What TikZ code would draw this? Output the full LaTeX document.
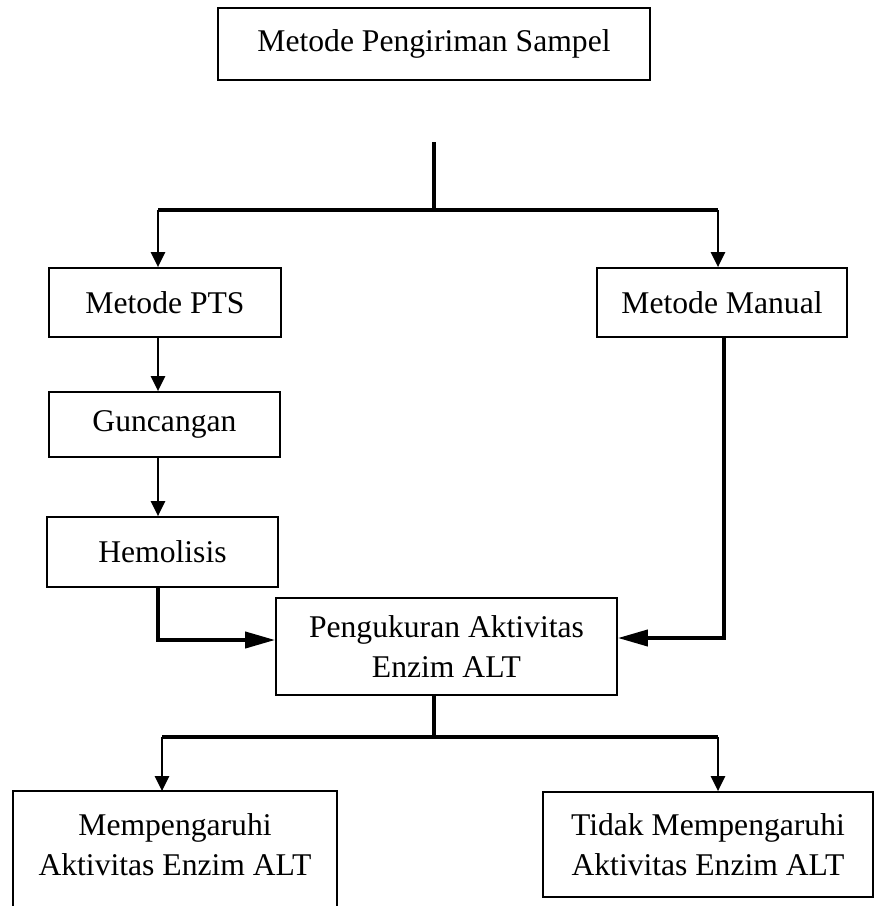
\documentclass[tikz,border=0pt]{standalone}
\usepackage{fontspec}
\setmainfont{Liberation Serif}
\usetikzlibrary{arrows.meta}
\tikzset{
  box/.style={draw, line width=1pt, align=center, inner sep=0pt,
    font=\fontsize{18}{22.5}\selectfont},
  thinarrow/.style={line width=1.3pt, -{Triangle[length=0.3cm,width=0.28cm]}},
  thickline/.style={line width=2.2pt},
  bigarrow/.style={line width=2.2pt, -{Triangle[length=0.6cm,width=0.32cm]}},
}

\begin{document}
\begin{tikzpicture}[x=0.02cm, y=-0.02cm]
  \useasboundingbox (0,0) rectangle (875,906);
  \clip (0,0) rectangle (875,906);

  \node [box, minimum width=8.64cm, minimum height=1.44cm] (metode) at (434,44) {Metode Pengiriman Sampel};

  \node [box, minimum width=4.64cm, minimum height=1.38cm] (pts) at (165,302.5) {Metode PTS};
  \node [box, minimum width=5.0cm, minimum height=1.38cm] (manual) at (722,302.5) {Metode Manual};
  \node [box, minimum width=4.62cm, minimum height=1.3cm] (guncangan) at (164.5,424.5) {Guncangan};
  \node [box, minimum width=4.62cm, minimum height=1.4cm] (hemolisis) at (162.5,552) {Hemolisis};

  \node [box, minimum width=6.82cm, minimum height=1.94cm] (ukur) at (446.5,646.5) {Pengukuran Aktivitas\\Enzim ALT};

  \node [box, draw=none, minimum width=6.44cm, minimum height=2.1cm] (pengaruh) at (175,844.5) {Mempengaruhi\\Aktivitas Enzim ALT};
  \draw [line width=1pt] ([yshift=-2cm]pengaruh.south west) -- (pengaruh.north west) -- (pengaruh.north east) -- ([yshift=-2cm]pengaruh.south east);
  \node [box, minimum width=6.6cm, minimum height=2.1cm] (tidak) at (708,844.5) {Tidak Mempengaruhi\\Aktivitas Enzim ALT};

  % cabang atas
  \coordinate (atas) at (434,142);
  \coordinate (pisah) at (434,210);
  \coordinate (kiri) at (158,210);
  \coordinate (kanan) at (718,210);
  \draw [thickline] (atas) -- (pisah);
  \draw [thickline] (kiri) -- (kanan);
  \draw [thinarrow] (kiri) -- (kiri |- pts.north);
  \draw [thinarrow] (kanan) -- (kanan |- manual.north);

  % jalur PTS
  \draw [thinarrow] (kiri |- pts.south) -- (kiri |- guncangan.north);
  \draw [thinarrow] (kiri |- guncangan.south) -- (kiri |- hemolisis.north);
  \coordinate (belok) at (158,640);
  \draw [bigarrow] (belok |- hemolisis.south) -- (belok) -- (belok -| ukur.west);

  % jalur manual
  \coordinate (belokm) at (724,638);
  \draw [bigarrow] (belokm |- manual.south) -- (belokm) -- (belokm -| ukur.east);

  % cabang bawah
  \coordinate (pisahb) at (434,737);
  \coordinate (kirib) at (162,737);
  \coordinate (kananb) at (718,737);
  \draw [thickline] (pisahb |- ukur.south) -- (pisahb);
  \draw [thickline] (kirib) -- (kananb);
  \draw [thinarrow] (kirib) -- (kirib |- pengaruh.north);
  \draw [thinarrow] (kananb) -- (kananb |- tidak.north);
\end{tikzpicture}
\end{document}
